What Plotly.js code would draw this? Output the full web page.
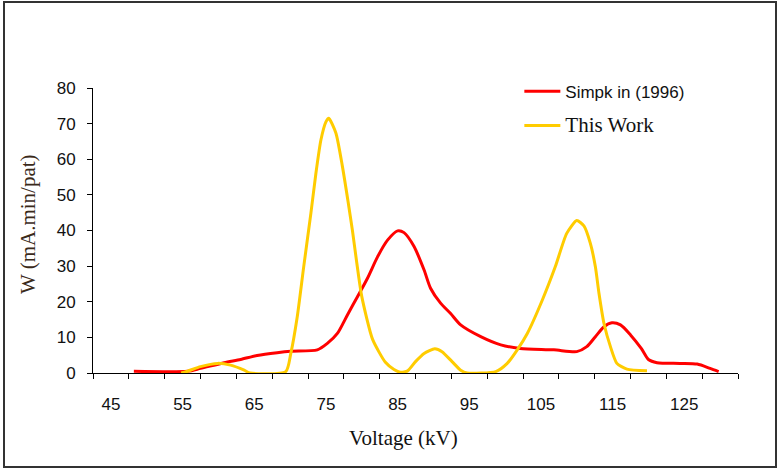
<!DOCTYPE html>
<html>
<head>
<meta charset="utf-8">
<script src="https://cdn.plot.ly/plotly-3.0.1.min.js"></script>
<style>html,body{margin:0;padding:0;background:#fff;}#chart{width:778px;height:470px;}</style>
</head>
<body>
<div id="chart"></div>
<script>
// Simpkin (1996)
const simpkinV = [48.2, 55.7, 57.5, 60.8, 63.1, 65.4, 68.2, 70.1, 73.8, 75.2, 76.6, 78.0, 79.4, 80.8, 82.2, 83.6, 85.0, 85.9, 87.3, 88.7, 89.6, 91.0, 92.4, 93.8, 96.6, 99.4, 102.1, 106.8, 110.0, 111.4, 112.6, 113.8, 114.9, 116.1, 117.5, 119.0, 120.0, 121.2, 124.4, 126.8, 128.6, 129.8];
const simpkinW = [0.5, 0.5, 1.3, 2.9, 3.8, 4.9, 5.7, 6.1, 6.5, 8.3, 11.1, 16.3, 21.4, 26.6, 32.6, 37.3, 39.9, 39.4, 35.5, 28.9, 23.8, 19.6, 16.7, 13.5, 10.2, 7.9, 6.9, 6.5, 6.0, 7.4, 10.2, 13.0, 14.1, 13.5, 10.7, 6.9, 3.8, 2.9, 2.7, 2.5, 1.3, 0.4];
// This Work
const thisWorkV = [54.8, 55.7, 57.5, 59.9, 61.7, 63.6, 64.4, 69.4, 70.1, 71.0, 71.9, 72.9, 73.6, 74.3, 75.0, 75.4, 76.4, 77.3, 78.1, 78.7, 79.3, 80.0, 81.5, 83.3, 84.5, 85.4, 86.4, 87.5, 88.7, 90.2, 91.2, 92.6, 93.8, 94.7, 98.7, 100.3, 101.7, 103.1, 105.2, 107.0, 108.6, 110.0, 111.0, 111.9, 112.6, 113.1, 113.8, 114.7, 115.6, 117.0, 119.8];
const thisWorkW = [0.0, 0.5, 1.8, 2.7, 2.2, 0.8, 0.0, 0.4, 5.5, 15.8, 29.8, 44.8, 56.0, 65.4, 70.5, 71.5, 67.3, 58.0, 48.0, 40.0, 31.0, 21.5, 9.5, 3.0, 1.0, 0.2, 0.6, 3.2, 5.5, 6.8, 6.0, 3.2, 0.8, 0.0, 0.4, 2.7, 6.5, 11.1, 20.5, 29.8, 39.2, 42.8, 41.3, 36.4, 29.8, 22.4, 13.9, 7.4, 2.7, 1.1, 0.6];
const xLabels = [45, 55, 65, 75, 85, 95, 105, 115, 125];
const yTicks = [0, 10, 20, 30, 40, 50, 60, 70, 80];

const serif = 'Liberation Serif, Times New Roman, serif';
const sans = 'Liberation Sans, Arial, sans-serif';

const traces = [
  {x: simpkinV, y: simpkinW, type: 'scatter', mode: 'lines',
   name: 'Simpk in (1996)', legendgroup: 'a',
   line: {color: '#FF0000', width: 3, shape: 'spline', smoothing: 0.7}},
  {x: thisWorkV, y: thisWorkW, type: 'scatter', mode: 'lines',
   name: '<span style="font-family:\'Liberation Serif\',serif;font-size:21px">This Work</span>', legendgroup: 'b',
   line: {color: '#FFCC00', width: 3, shape: 'spline', smoothing: 0.6}}
];

const layout = {
  width: 778, height: 470,
  margin: {l: 93, r: 40, t: 88, b: 97},
  paper_bgcolor: '#fff', plot_bgcolor: '#fff',
  font: {family: sans, size: 17, color: '#111'},
  showlegend: true,
  legend: {x: 0.661, y: 1.05, xanchor: 'left', yanchor: 'top', bgcolor: 'rgba(0,0,0,0)',
           font: {family: sans, size: 17, color: '#111'}, itemwidth: 36,
           traceorder: 'grouped', tracegroupgap: 9},
  xaxis: {
    range: [42.5, 132.5], tickvals: xLabels, ticktext: xLabels.map(String),
    ticks: '', showgrid: false, zeroline: false, showline: true, linecolor: '#000', linewidth: 1,
    ticklabelstandoff: 16,
    minor: {tick0: 42.5, dtick: 5, ticks: 'outside', ticklen: 5, tickcolor: '#000', showgrid: false},
    fixedrange: true
  },
  yaxis: {
    range: [0, 80], tickvals: yTicks, ticks: 'outside', ticklen: 5, tickcolor: '#000',
    showgrid: false, zeroline: false, showline: true, linecolor: '#000', linewidth: 1,
    ticklabelstandoff: 8,
    fixedrange: true
  },
  annotations: [
    {text: 'Voltage (kV)', xref: 'paper', yref: 'paper', x: (403 - 93) / 645, y: (373 - 438) / 285,
     xanchor: 'center', yanchor: 'middle', showarrow: false,
     font: {family: serif, size: 21, color: '#111'}},
    {text: 'W (mA.min/pat)', xref: 'paper', yref: 'paper', x: (28 - 93) / 645, y: (373 - 224) / 285,
     xanchor: 'center', yanchor: 'middle', showarrow: false, textangle: -90,
     font: {family: serif, size: 21, color: '#3a2a1a'}}
  ],
  shapes: [
    {type: 'rect', xref: 'paper', yref: 'paper',
     x0: (4 - 93) / 645, x1: (776 - 93) / 645, y0: (373 - 467) / 285, y1: (373 - 2) / 285,
     line: {color: '#333', width: 2}, fillcolor: 'rgba(0,0,0,0)', layer: 'below'}
  ]
};

Plotly.newPlot('chart', traces, layout, {staticPlot: true, displayModeBar: false});
</script>
</body>
</html>
